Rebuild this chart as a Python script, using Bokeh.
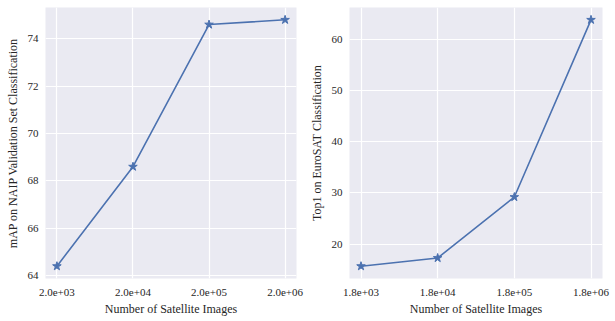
from bokeh.plotting import figure
from bokeh.layouts import row
from bokeh.models import FixedTicker, Range1d
from bokeh.embed import file_html
from bokeh.resources import INLINE
import numpy as np

# Data
naip_sizes = [2.0e3, 2.0e4, 2.0e5, 2.0e6]
naip_map = [64.4, 68.6, 74.6, 74.8]
naip_xlabels = ["2.0e+03", "2.0e+04", "2.0e+05", "2.0e+06"]
naip_yticks = [64, 66, 68, 70, 72, 74]

euro_sizes = [1.8e3, 1.8e4, 1.8e5, 1.8e6]
euro_top1 = [15.7, 17.3, 29.2, 63.8]
euro_xlabels = ["1.8e+03", "1.8e+04", "1.8e+05", "1.8e+06"]
euro_yticks = [20, 30, 40, 50, 60]

FONT = "Liberation Serif"
LINE = "#4C72B0"
BG = "#EAEAF2"
TXT = "#262626"


def padded(vals, log=False, frac=0.05):
    v = np.log10(vals) if log else np.array(vals, dtype=float)
    lo, hi = v.min(), v.max()
    m = (hi - lo) * frac
    lo, hi = lo - m, hi + m
    if log:
        return 10 ** lo, 10 ** hi
    return lo, hi


def make(xs, ys, xlabels, yticks, ylabel, fw, bl, br):
    x0, x1 = padded(xs, log=True)
    y0, y1 = padded(ys)
    p = figure(x_axis_type="log", x_range=Range1d(x0, x1), y_range=Range1d(y0, y1),
               frame_width=fw, frame_height=271, output_backend="svg",
               toolbar_location=None, min_border_left=bl, min_border_right=br,
               min_border_top=7, min_border_bottom=43)
    p.background_fill_color = BG
    p.outline_line_color = None
    p.line(xs, ys, line_color=LINE, line_width=1.6)
    p.scatter(xs, ys, marker="star", size=9, fill_color=LINE, line_color=LINE)
    p.xaxis.ticker = FixedTicker(ticks=list(xs), minor_ticks=[])
    p.xaxis.major_label_overrides = {float(x): l for x, l in zip(xs, xlabels)}
    p.yaxis.ticker = FixedTicker(ticks=yticks, minor_ticks=[])
    p.xaxis.axis_label = "Number of Satellite Images"
    p.yaxis.axis_label = ylabel
    for ax in (p.xaxis, p.yaxis):
        ax.axis_line_color = None
        ax.major_tick_line_color = None
        ax.minor_tick_line_color = None
        ax.major_tick_in = 0
        ax.major_tick_out = 0
        ax.major_label_text_font = FONT
        ax.major_label_text_font_size = "11px"
        ax.major_label_text_color = TXT
        ax.axis_label_text_font = FONT
        ax.axis_label_text_font_size = "12px"
        ax.axis_label_text_font_style = "normal"
        ax.axis_label_text_color = TXT
    p.xaxis.major_label_standoff = 10
    p.xaxis.axis_label_standoff = 3
    p.yaxis.major_label_standoff = 7
    p.yaxis.axis_label_standoff = 5
    p.grid.grid_line_color = "white"
    p.grid.grid_line_width = 1.2
    p.xgrid.minor_grid_line_color = None
    p.ygrid.minor_grid_line_color = None
    return p


p1 = make(naip_sizes, naip_map, naip_xlabels, naip_yticks,
          "mAP on NAIP Validation Set Classification", 251, 45, 8)
p2 = make(euro_sizes, euro_top1, euro_xlabels, euro_yticks,
          "Top1 on EuroSAT Classification", 253, 45, 13)

layout = row(p1, p2, spacing=0)
open("out.html", "w").write(file_html(layout, INLINE))
